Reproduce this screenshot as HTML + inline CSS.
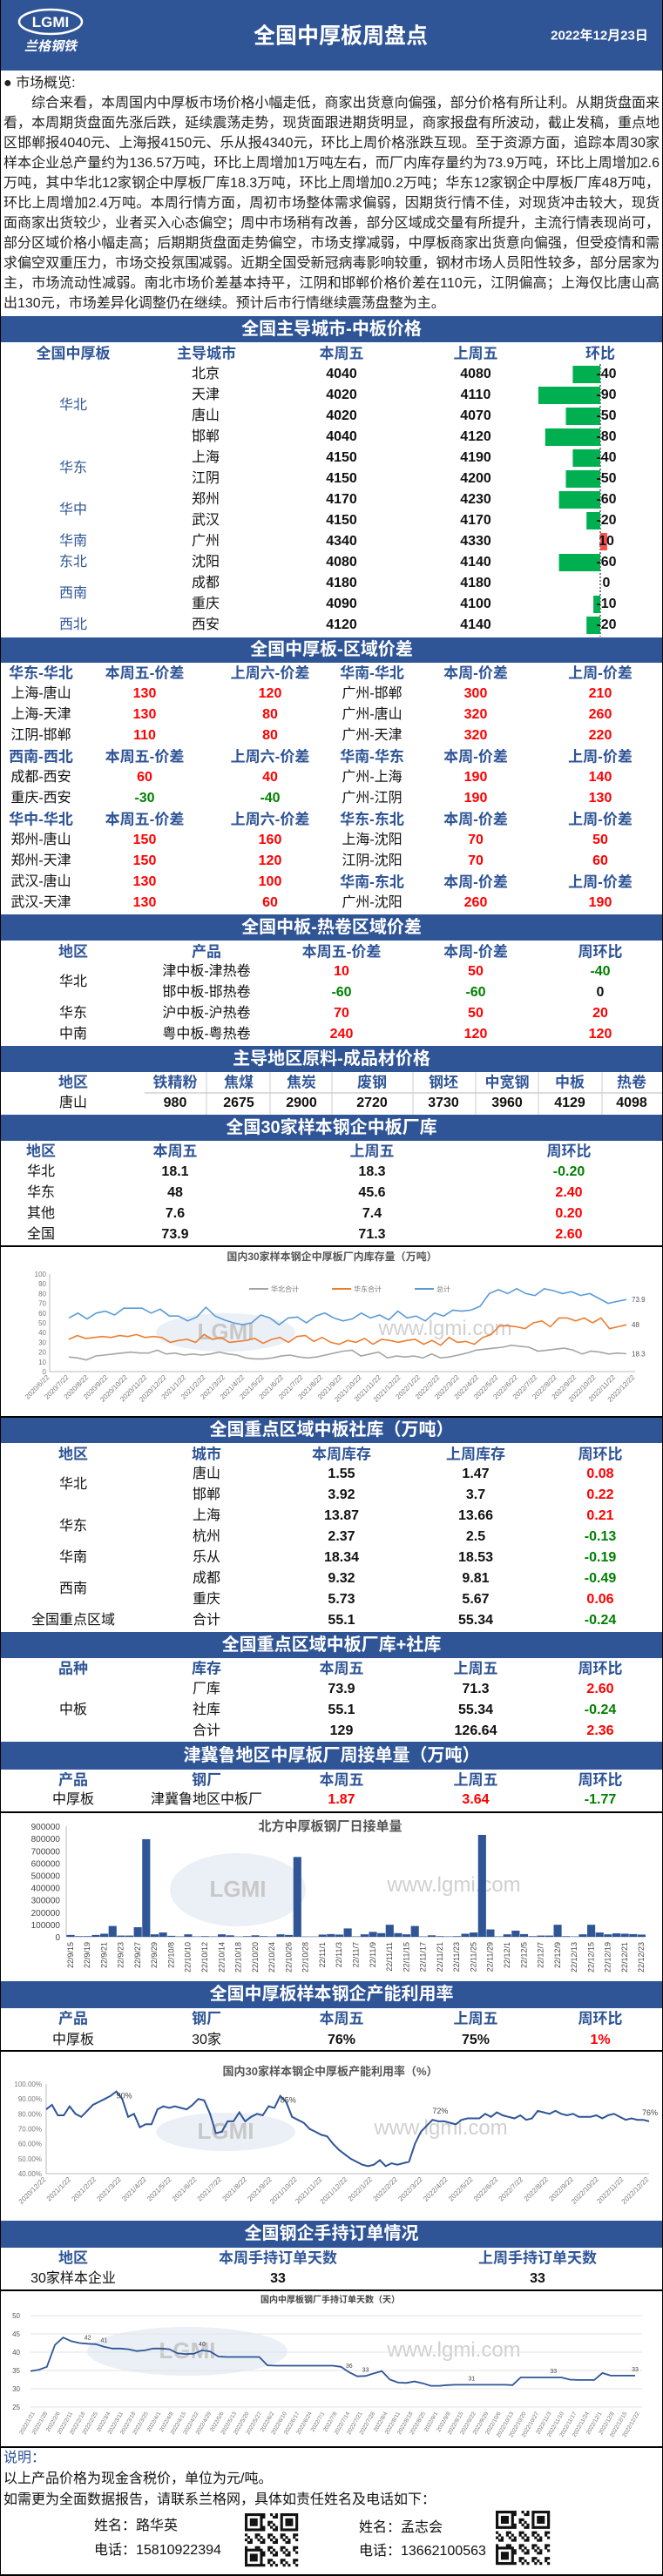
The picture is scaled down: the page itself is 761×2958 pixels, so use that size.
<!DOCTYPE html>
<html><head><meta charset="utf-8">
<style>
*{margin:0;padding:0;box-sizing:border-box}
body{width:761px;height:2958px;background:#fff;overflow:hidden;font-family:"Liberation Sans","Noto Sans CJK SC",sans-serif}
#page{position:relative;width:761px;height:2958px;border-left:1px solid #000;border-right:1px solid #000;border-bottom:2px solid #000}
.t{position:absolute;white-space:nowrap;transform:translate(-50%,-50%);line-height:1}
.h{color:#2F5597;font-weight:bold;font-size:17px;font-family:"Liberation Sans Narrow","Liberation Sans","Noto Sans CJK SC",sans-serif}
.c{color:#111;font-size:16px}
.b{color:#2F5597;font-size:16px}
.n{color:#111;font-weight:bold;font-size:16px;font-family:"Liberation Sans Narrow","Liberation Sans","Noto Sans CJK SC",sans-serif}
.r{color:#f00;font-weight:bold;font-size:16px;font-family:"Liberation Sans Narrow","Liberation Sans","Noto Sans CJK SC",sans-serif}
.g{color:#008000;font-weight:bold;font-size:16px;font-family:"Liberation Sans Narrow","Liberation Sans","Noto Sans CJK SC",sans-serif}
.bar{position:absolute;left:0;width:759px;background:#2F5597;color:#fff;font-weight:bold;font-size:20px;text-align:center;font-family:"Liberation Sans","Noto Sans CJK SC",sans-serif}
#hdr{position:absolute;left:0;top:0;width:759px;height:81px;background:#2F5597}
#intro{position:absolute;left:3px;top:84px;width:753px;font-size:16px;line-height:23px;color:#222;text-align:justify;font-family:"Liberation Sans","Noto Sans CJK SC",sans-serif}
.hl{position:absolute;left:0;width:759px;height:1.5px;background:#000}
svg text{font-family:"Liberation Sans","Noto Sans CJK SC",sans-serif}
</style></head>
<body>
<div id="page">
<div id="hdr">
  <svg width="130" height="81" style="position:absolute;left:0;top:0">
    <ellipse cx="57" cy="25" rx="36" ry="14" fill="none" stroke="#fff" stroke-width="2.5"/>
    <text x="57" y="31" text-anchor="middle" font-size="17" font-weight="bold" fill="#fff">LGMI</text>
    <text x="57" y="58" text-anchor="middle" font-size="15" font-weight="bold" fill="#fff" font-style="italic">兰格钢铁</text>
  </svg>
  <div class="t" style="left:390px;top:42px;color:#fff;font-weight:bold;font-size:25px">全国中厚板周盘点</div>
  <div class="t" style="left:687px;top:41px;color:#fff;font-weight:bold;font-size:15px">2022年12月23日</div>
</div>
<div id="intro">● 市场概览:<br>&emsp;&emsp;综合来看，本周国内中厚板市场价格小幅走低，商家出货意向偏强，部分价格有所让利。从期货盘面来看，本周期货盘面先涨后跌，延续震荡走势，现货面跟进期货明显，商家报盘有所波动，截止发稿，重点地区邯郸报4040元、上海报4150元、乐从报4340元，环比上周价格涨跌互现。至于资源方面，追踪本周30家样本企业总产量约为136.57万吨，环比上周增加1万吨左右，而厂内库存量约为73.9万吨，环比上周增加2.6万吨，其中华北12家钢企中厚板厂库18.3万吨，环比上周增加0.2万吨；华东12家钢企中厚板厂库48万吨，环比上周增加2.4万吨。本周行情方面，周初市场整体需求偏弱，因期货行情不佳，对现货冲击较大，现货面商家出货较少，业者买入心态偏空；周中市场稍有改善，部分区域成交量有所提升，主流行情表现尚可，部分区域价格小幅走高；后期期货盘面走势偏空，市场支撑减弱，中厚板商家出货意向偏强，但受疫情和需求偏空双重压力，市场交投氛围减弱。近期全国受新冠病毒影响较重，钢材市场人员阳性较多，部分居家为主，市场流动性减弱。南北市场价差基本持平，江阴和邯郸价格价差在110元，江阴偏高；上海仅比唐山高出130元，市场差异化调整仍在继续。预计后市行情继续震荡盘整为主。</div>
<svg id="gfx" width="761" height="2958" style="position:absolute;left:0;top:0"></svg>
</div>
<script>
// ---------- chart data ----------
const invDates=["2020/6/22","2020/7/22","2020/8/22","2020/9/22","2020/10/22","2020/11/22","2020/12/22","2021/1/22","2021/2/22","2021/3/22","2021/4/22","2021/5/22","2021/6/22","2021/7/22","2021/8/22","2021/9/22","2021/10/22","2021/11/22","2021/12/22","2022/1/22","2022/2/22","2022/3/22","2022/4/22","2022/5/22","2022/6/22","2022/7/22","2022/8/22","2022/9/22","2022/10/22","2022/11/22","2022/12/22"];
const invTotal=[55,60,54,60,62,58,65,65,65,60,64,57,57,52,56,66,57,53,50,48,50,58,55,48,55,56,50,57,60,55,52,54,60,55,58,53,62,55,57,52,60,57,63,62,63,67,80,84,80,85,80,78,85,83,80,82,78,80,75,70,72,73.9];
const invEast=[33,37,34,35,36,35,37,36,38,35,36,35,30,32,33,30,38,33,35,30,31,32,34,29,33,35,30,36,37,31,35,30,28,32,30,34,28,33,32,30,32,33,28,32,27,35,30,31,28,35,38,47,47,46,44,50,52,46,55,55,52,55,50,55,44,46,48];
const invNorth=[15,14,12,16,17,18,19,20,19,19,22,18,19,17,18,17,18,20,18,17,14,13,13,14,16,17,15,14,15,17,19,21,22,16,18,20,14,16,15,16,14,18,14,15,17,19,22,23,24,25,27,26,25,21,22,23,24,22,18,21,20,18,19,18.3];
const invTicks=[0,10,20,30,40,50,60,70,80,90,100];
const orderDates=["22/9/15","22/9/19","22/9/21","22/9/23","22/9/27","22/9/29","22/10/8","22/10/10","22/10/12","22/10/14","22/10/18","22/10/20","22/10/24","22/10/26","22/10/28","22/11/1","22/11/3","22/11/7","22/11/9","22/11/11","22/11/15","22/11/17","22/11/21","22/11/23","22/11/25","22/11/29","22/12/1","22/12/5","22/12/7","22/12/9","22/12/13","22/12/15","22/12/19","22/12/21","22/12/23"];
const orderVals=[15000,5000,5000,15000,25000,88000,10000,10000,78000,795000,20000,35000,8000,3000,20000,3000,5000,3000,20000,12000,2000,5000,12000,5000,3000,20000,15000,650000,2000,2000,18000,22000,18000,68000,3000,20000,40000,30000,98000,30000,20000,88000,3000,12000,5000,3000,5000,25000,35000,830000,60000,3000,20000,50000,22000,5000,10000,10000,98000,5000,3000,20000,98000,35000,20000,28000,25000,22000,18000];
const orderTicks=[0,100000,200000,300000,400000,500000,600000,700000,800000,900000];
const utilDates=["2020/12/22","2021/1/22","2021/2/22","2021/3/22","2021/4/22","2021/5/22","2021/6/22","2021/7/22","2021/8/22","2021/9/22","2021/10/22","2021/11/22","2021/12/22","2022/1/22","2022/2/22","2022/3/22","2022/4/22","2022/5/22","2022/6/22","2022/7/22","2022/8/22","2022/9/22","2022/10/22","2022/11/22","2022/12/22"];
const utilVals=[83,86,79,79,85,80,78,82,86,88,90,92,95,90,78,80,71,73,73,83,85,84,85,84,83,86,90,89,80,67,68,75,75,81,75,78,80,79,85,84,92,88,78,76,74,70,68,66,65,60,56,53,50,48,46,45,46,49,45,47,46,47,48,60,68,72,76,75,75,74,73,76,77,77,77,80,78,81,79,78,77,79,76,77,82,81,80,82,80,79,80,78,78,78,79,77,79,80,78,76,77,76,76,75];
const utilTicks=[40,50,60,70,80,90,100];
const daysDates=["2022/1/21","2022/1/28","2022/2/6","2022/2/11","2022/2/18","2022/2/25","2022/3/4","2022/3/11","2022/3/18","2022/3/25","2022/4/1","2022/4/8","2022/4/15","2022/4/22","2022/4/29","2022/5/6","2022/5/13","2022/5/20","2022/5/27","2022/6/2","2022/6/10","2022/6/17","2022/6/24","2022/7/1","2022/7/8","2022/7/14","2022/7/21","2022/7/28","2022/8/4","2022/8/11","2022/8/18","2022/8/25","2022/9/1","2022/9/8","2022/9/15","2022/9/22","2022/9/29","2022/10/6","2022/10/13","2022/10/20","2022/10/27","2022/11/3","2022/11/10","2022/11/17","2022/11/24","2022/12/1","2022/12/8","2022/12/15","2022/12/22"];
const daysVals=[34.8,35.2,36,42,44,43,42.5,42.3,42.2,41.5,41,41,40.8,40.3,40.5,41,41,40.8,39.7,39.5,39.6,40.5,40.2,38.8,38.7,38.7,38.7,38.7,38.7,36.4,36.3,36.3,36.3,36.3,36.3,36.3,36.3,36.3,36,34.5,33.4,33.5,34.2,34.8,32.5,31.7,31.6,32,31.5,30.8,30.8,31,31.1,31.1,31.1,31.1,31.1,31.1,31.1,31,33.1,33.1,33.1,33.1,33.1,33.1,32.5,32.4,32.4,32.4,34.3,33.6,33.6,33.6,33.6];
const daysTicks=[25,30,35,40,45,50];

const page=document.getElementById('page');
const svg=document.getElementById('gfx');
const NS='http://www.w3.org/2000/svg';
function T(x,y,txt,cls,name,left){
  const el=document.createElement('div');
  el.className='t '+cls;
  el.style.left=x+'px';el.style.top=y+'px';
  if(left) el.style.transform='translate(0,-50%)';
  el.textContent=txt;
  
  
  page.appendChild(el);
}
function S(tag,attrs,name,txt){
  const e=document.createElementNS(NS,tag);
  for(const k in attrs) e.setAttribute(k,attrs[k]);
  if(txt!==undefined) e.textContent=txt;
  
  
  svg.appendChild(e);return e;
}
function numCls(v){const n=parseFloat(v);if(isNaN(n))return 'n';return n>0?'r':(n<0?'g':'n');}
// section bars
[[363,393,'全国主导城市-中板价格'],[732,761,'全国中厚板-区域价差'],[1050,1080,'全国中板-热卷区域价差'],[1201,1231,'主导地区原料-成品材价格'],[1280,1310,'全国30家样本钢企中板厂库'],[1627,1657,'全国重点区域中板社库（万吨）'],[1874,1904,'全国重点区域中板厂库+社库'],[2000,2032,'津冀鲁地区中厚板厂周接单量（万吨）'],[2275,2306,'全国中厚板样本钢企产能利用率'],[2550,2581,'全国钢企手持订单情况']].forEach(b=>{
  const d=document.createElement('div');d.className='bar';
  d.style.top=b[0]+'px';d.style.height=(b[1]-b[0])+'px';d.style.lineHeight=(b[1]-b[0])+'px';
  d.textContent=b[2];
  
  
  page.appendChild(d);
});
[1430,1626,2080,2354,2629,2809].forEach(y=>{
  const d=document.createElement('div');d.className='hl';d.style.top=y+'px';
  
  
  page.appendChild(d);
});
const C5=[83,236,391,545,688];
function header(y,cols,labels){labels.forEach((l,i)=>T(cols[i],y,l,'h','column-header'));}
// table 1 city prices
header(406,C5,['全国中厚板','主导城市','本周五','上周五','环比']);
const cities=['北京','天津','唐山','邯郸','上海','江阴','郑州','武汉','广州','沈阳','成都','重庆','西安'];
const thisWk=[4040,4020,4020,4040,4150,4150,4170,4150,4340,4080,4180,4090,4120];
const lastWk=[4080,4110,4070,4120,4190,4200,4230,4170,4330,4140,4180,4100,4140];
S('line',{x1:688,y1:418,x2:688,y2:731,stroke:'#000','stroke-dasharray':'2,2','stroke-width':1},'change-zero-axis');
cities.forEach((c,i)=>{
  const y=430+24*i, d=thisWk[i]-lastWk[i];
  T(219,y,c,'c','city-name',true);
  T(391,y,String(thisWk[i]),'n','this-week-price');
  T(545,y,String(lastWk[i]),'n','last-week-price');
  const w=Math.abs(d)*0.79;
  if(d!==0) S('rect',{x:d<0?688-w:688,y:y-10,width:w,height:20,fill:d<0?'#00B050':'#FF4B4B'},'change-bar');
  T(695,y,String(d),'n','price-change');
});
[['华北',466],['华东',538],['华中',586],['华南',622],['东北',646],['西南',682],['西北',718]].forEach(r=>T(83,r[1],r[0],'b','region-label'));
// table 2 regional spreads
const C6=[46,165,309,426,545,688];
const spreadRows=[
[773,'H',['华东-华北','本周五-价差','上周六-价差','华南-华北','本周-价差','上周-价差']],
[797,'D',['上海-唐山','130','120','广州-邯郸','300','210']],
[821,'D',['上海-天津','130','80','广州-唐山','320','260']],
[845,'D',['江阴-邯郸','110','80','广州-天津','320','220']],
[869,'H',['西南-西北','本周五-价差','上周六-价差','华南-华东','本周-价差','上周-价差']],
[893,'D',['成都-西安','60','40','广州-上海','190','140']],
[917,'D',['重庆-西安','-30','-40','广州-江阴','190','130']],
[941,'H',['华中-华北','本周五-价差','上周六-价差','华东-东北','本周-价差','上周-价差']],
[965,'D',['郑州-唐山','150','160','上海-沈阳','70','50']],
[989,'D',['郑州-天津','150','120','江阴-沈阳','70','60']],
[1013,'M',['武汉-唐山','130','100','华南-东北','本周-价差','上周-价差']],
[1037,'D',['武汉-天津','130','60','广州-沈阳','260','190']]];
spreadRows.forEach(r=>{r[2].forEach((v,i)=>{
  const hdr=r[1]==='H'||(r[1]==='M'&&i>=3);
  let cls=hdr?'h':(isNaN(parseFloat(v))?'c':numCls(v));
  T(C6[i],r[0],v,cls,hdr?'spread-header':'spread-cell');
});});
// table 3 plate vs hot roll
header(1093,C5,['地区','产品','本周五-价差','本周-价差','周环比']);
[[1116,'津中板-津热卷','10','50','-40'],[1140,'邯中板-邯热卷','-60','-60','0'],[1164,'沪中板-沪热卷','70','50','20'],[1188,'粤中板-粤热卷','240','120','120']].forEach(r=>{
  T(236,r[0],r[1],'c','product-pair');
  T(391,r[0],r[2],numCls(r[2]),'spread-this-fri');
  T(545,r[0],r[3],numCls(r[3]),'spread-this-week');
  T(688,r[0],r[4],numCls(r[4]),'spread-change');
});
[['华北',1128],['华东',1164],['中南',1188]].forEach(r=>T(83,r[1],r[0],'c','region-label'));
// table 4 raw materials
const RC=[83,200,273,345,426,508,581,653,724];
header(1243,RC,['地区','铁精粉','焦煤','焦炭','废钢','钢坯','中宽钢','中板','热卷']);
['唐山','980','2675','2900','2720','3730','3960','4129','4098'].forEach((v,i)=>T(RC[i],1267,v,i?'n':'c','raw-price'));
S('line',{x1:165,y1:1255,x2:759,y2:1255,stroke:'#bbb'},'grid-line');
[236,309,380,473,545,617,690].forEach(x=>S('line',{x1:x,y1:1231,x2:x,y2:1280,stroke:'#ccc'},'grid-line'));
// table 5 mill inventory
const IC=[46,200,426,652];
header(1322,IC,['地区','本周五','上周五','周环比']);
[['华北','18.1','18.3','-0.20'],['华东','48','45.6','2.40'],['其他','7.6','7.4','0.20'],['全国','73.9','71.3','2.60']].forEach((r,i)=>{
  const y=1346+24*i;
  T(46,y,r[0],'c','region-label');T(200,y,r[1],'n','inv-this');T(426,y,r[2],'n','inv-last');T(652,y,r[3],numCls(r[3]),'inv-change');
});
// table 6 social inventory
header(1670,C5,['地区','城市','本周库存','上周库存','周环比']);
[['唐山','1.55','1.47','0.08'],['邯郸','3.92','3.7','0.22'],['上海','13.87','13.66','0.21'],['杭州','2.37','2.5','-0.13'],['乐从','18.34','18.53','-0.19'],['成都','9.32','9.81','-0.49'],['重庆','5.73','5.67','0.06'],['合计','55.1','55.34','-0.24']].forEach((r,i)=>{
  const y=1693+24*i;
  T(236,y,r[0],'c','city-name');T(391,y,r[1],'n','stock-this');T(545,y,r[2],'n','stock-last');T(688,y,r[3],numCls(r[3]),'stock-change');
});
[['华北',1705],['华东',1753],['华南',1789],['西南',1825],['全国重点区域',1861]].forEach(r=>T(83,r[1],r[0],'c','region-label'));
// table 7
header(1916,C5,['品种','库存','本周五','上周五','周环比']);
[['厂库','73.9','71.3','2.60'],['社库','55.1','55.34','-0.24'],['合计','129','126.64','2.36']].forEach((r,i)=>{
  const y=1940+24*i;
  T(236,y,r[0],'c','stock-type');T(391,y,r[1],'n','total-this');T(545,y,r[2],'n','total-last');T(688,y,r[3],numCls(r[3]),'total-change');
});
T(83,1964,'中板','c','product-label');
// table 8
header(2044,C5,['产品','钢厂','本周五','上周五','周环比']);
['中厚板','津冀鲁地区中板厂','1.87','3.64','-1.77'].forEach((v,i)=>T(C5[i],2067,v,i<2?'c':numCls(v),'orders-cell'));
// table 9
header(2318,C5,['产品','钢厂','本周五','上周五','周环比']);
['中厚板','30家','76%','75%','1%'].forEach((v,i)=>T(C5[i],2343,v,i<2?'c':(i==4?'r':'n'),'util-cell'));
// table 10
header(2593,[83,318,616],['地区','本周手持订单天数','上周手持订单天数']);
T(83,2617,'30家样本企业','c','region-label');T(318,2617,'33','n','days-this');T(616,2617,'33','n','days-last');

// watermark helper
function wm(cx,cy,rx,ry,tx,ty){
  S('ellipse',{cx:cx,cy:cy,rx:rx,ry:ry,fill:'#dde6f2',opacity:0.6},'watermark-logo');
  S('text',{x:cx,y:cy+8,'text-anchor':'middle','font-size':26,'font-weight':'bold',fill:'#c8c8c8'},'watermark-logo-text','LGMI');
  S('text',{x:tx,y:ty,'text-anchor':'middle','font-size':24,fill:'#d0d0d0','font-family':'Liberation Serif'},'watermark-url','www.lgmi.com');
}
// chart 1 inventory lines
(function(){
  const x0=56,x1=728,yv=v=>1575-v*1.12;
  wm(258,1530,80,22,510,1533);
  S('text',{x:380,y:1447,'text-anchor':'middle','font-size':12,'font-weight':'bold',fill:'#555'},'chart-title','国内30家样本钢企中厚板厂内库存量（万吨）');
  [['华北合计','#a5a5a5',285],['华东合计','#ED7D31',380],['总计','#5B9BD5',475]].forEach(l=>{
    S('line',{x1:l[2],y1:1480,x2:l[2]+22,y2:1480,stroke:l[1],'stroke-width':2},'legend-swatch');
    S('text',{x:l[2]+25,y:1483,'font-size':8,fill:'#777'},'legend-label',l[0]);
  });
  S('line',{x1:x0,y1:1463,x2:x0,y2:1575,stroke:'#bbb'},'y-axis');
  S('line',{x1:x0,y1:1575,x2:x1,y2:1575,stroke:'#bbb'},'x-axis');
  invTicks.forEach(v=>S('text',{x:x0-4,y:yv(v)+3,'text-anchor':'end','font-size':8,fill:'#777'},'y-tick-label',String(v)));
  invDates.forEach((d,i)=>{const x=x0+(x1-x0)*i/(invDates.length-1);
    S('text',{x:x,y:1582,'text-anchor':'end','font-size':8,fill:'#777',transform:`rotate(-45 ${x} 1582)`},'x-tick-label',d);});
  [[invNorth,'#a5a5a5','north-total-line'],[invEast,'#ED7D31','east-total-line'],[invTotal,'#5B9BD5','national-total-line']].forEach(s=>{
    const xs=x0+22, xe=x1-10;
    const pts=s[0].map((v,i)=>(xs+(xe-xs)*i/(s[0].length-1)).toFixed(1)+','+yv(v).toFixed(1)).join(' ');
    S('polyline',{points:pts,fill:'none',stroke:s[1],'stroke-width':1.6},s[2]);
    const last=s[0][s[0].length-1];
    S('text',{x:xe+6,y:yv(last)+3,'font-size':8,fill:'#555'},'end-value-label',String(last));
  });
})();
// chart 2 daily orders bar
(function(){
  const x0=75,x1=740,y0=2224,k=14.1/100000;
  wm(272,2170,78,42,520,2172);
  S('text',{x:378,y:2102,'text-anchor':'middle','font-size':15,'font-weight':'bold',fill:'#555','font-family':'Liberation Serif'},'chart-title','北方中厚板钢厂日接单量');
  S('line',{x1:x0,y1:2097,x2:x0,y2:y0,stroke:'#bbb'},'y-axis');
  S('line',{x1:x0,y1:y0,x2:x1,y2:y0,stroke:'#bbb'},'x-axis');
  orderTicks.forEach(v=>S('text',{x:x0-7,y:y0-v*k+4,'text-anchor':'end','font-size':10,fill:'#444'},'y-tick-label',String(v)));
  const n=orderVals.length,w=(x1-x0)/n;
  orderVals.forEach((v,i)=>S('rect',{x:x0+i*w+0.5,y:y0-v*k,width:w-0.5,height:v*k,fill:'#2F5597'},'order-bar'));
  orderDates.forEach((d,i)=>{const x=x0+(2*i+0.5)*w+3;
    S('text',{x:x,y:y0+6,'text-anchor':'end','font-size':9,fill:'#444',transform:`rotate(-90 ${x} ${y0+6})`},'x-tick-label',d);});
})();
// chart 3 utilisation
(function(){
  const x0=52,x1=744,yv=v=>2496-(v-40)*1.717;
  wm(258,2448,80,22,505,2451);
  S('text',{x:378,y:2383,'text-anchor':'middle','font-size':13,'font-weight':'bold',fill:'#555','font-family':'Liberation Serif'},'chart-title','国内30家样本钢企中厚板产能利用率（%）');
  S('line',{x1:x0,y1:2393,x2:x0,y2:2496,stroke:'#bbb'},'y-axis');
  S('line',{x1:x0,y1:2496,x2:x1,y2:2496,stroke:'#bbb'},'x-axis');
  utilTicks.forEach(v=>S('text',{x:x0-5,y:yv(v)+3,'text-anchor':'end','font-size':8,fill:'#777'},'y-tick-label',v.toFixed(2)+'%'));
  utilDates.forEach((d,i)=>{const x=x0+(x1-x0)*i/(utilDates.length-1);
    S('text',{x:x,y:2503,'text-anchor':'end','font-size':8,fill:'#777',transform:`rotate(-45 ${x} 2503)`},'x-tick-label',d);});
  const px=i=>x0+(x1-x0)*i/(utilVals.length-1);
  S('polyline',{points:utilVals.map((v,i)=>px(i).toFixed(1)+','+yv(v).toFixed(1)).join(' '),fill:'none',stroke:'#2F5597','stroke-width':2},'utilization-line');
  [[12,'90%'],[40,'85%'],[66,'72%'],[103,'76%']].forEach(a=>S('text',{x:px(a[0])+(a[0]>100?-8:0),y:yv(utilVals[a[0]])+(a[0]<50?8:-7),'font-size':9,fill:'#444'},'data-label',a[1]));
})();
// chart 4 order days
(function(){
  const x0=34,x1=728,yv=v=>2764-(v-25)*4.2;
  wm(214,2700,115,28,520,2706);
  S('text',{x:378,y:2644,'text-anchor':'middle','font-size':10,'font-weight':'bold',fill:'#444','font-family':'Liberation Serif'},'chart-title','国内中厚板钢厂手持订单天数（天）');
  daysTicks.forEach(v=>{S('line',{x1:x0,y1:yv(v),x2:736,y2:yv(v),stroke:'#e3e3e3'},'grid-line');
    S('text',{x:22,y:yv(v)+3,'text-anchor':'end','font-size':8,fill:'#555','font-family':'Liberation Serif'},'y-tick-label',String(v));});
  daysDates.forEach((d,i)=>{const x=x0+(x1-x0)*i/(daysDates.length-1)+5;
    S('text',{x:x,y:2771,'text-anchor':'end','font-size':6.5,fill:'#777',transform:`rotate(-60 ${x} 2771)`},'x-tick-label',d);});
  const px=i=>x0+(x1-x0)*i/(daysVals.length-1);
  S('polyline',{points:daysVals.map((v,i)=>px(i).toFixed(1)+','+yv(v).toFixed(1)).join(' '),fill:'none',stroke:'#2F5597','stroke-width':1.8},'order-days-line');
  [[7,'42'],[9,'41'],[21,'40'],[39,'36'],[41,'33'],[54,'31'],[64,'33'],[74,'33']].forEach(a=>S('text',{x:px(a[0]),y:yv(daysVals[a[0]])-5,'text-anchor':'middle','font-size':7,fill:'#444','font-family':'Liberation Serif'},'data-label',a[1]));
})();
// notes
T(3,2823,'说明：','b','notes-title',true);
T(3,2847,'以上产品价格为现金含税价，单位为元/吨。','c','notes-unit',true);
T(3,2871,'如需更为全面数据报告，请联系兰格网，具体如责任姓名及电话如下：','c','notes-contact',true);
T(107,2901,'姓名：路华英','c','contact-name-1',true);
T(107,2929,'电话：15810922394','c','contact-phone-1',true);
T(411,2903,'姓名：孟志会','c','contact-name-2',true);
T(411,2930,'电话：13662100563','c','contact-phone-2',true);
// QR codes (decorative)
function qr(x,y,s,name){
  const n=21,c=s/n;
  for(let r=0;r<n;r++)for(let q=0;q<n;q++){
    const f=(r<7&&q<7)||(r<7&&q>=n-7)||(r>=n-7&&q<7);
    let on;
    if(f){const a=r<7?r:r-(n-7),b=q<7?q:q-(n-7);on=(a==0||a==6||b==0||b==6||(a>=2&&a<=4&&b>=2&&b<=4));}
    else on=((r*7+q*13+r*q)%5)<2;
    if(on) S('rect',{x:x+q*c,y:y+r*c,width:c+0.2,height:c+0.2,fill:'#111'},name);
  }
}
qr(280,2886,61,'qr-code-1');
qr(568,2883,62,'qr-code-2');
</script>
</body></html>
